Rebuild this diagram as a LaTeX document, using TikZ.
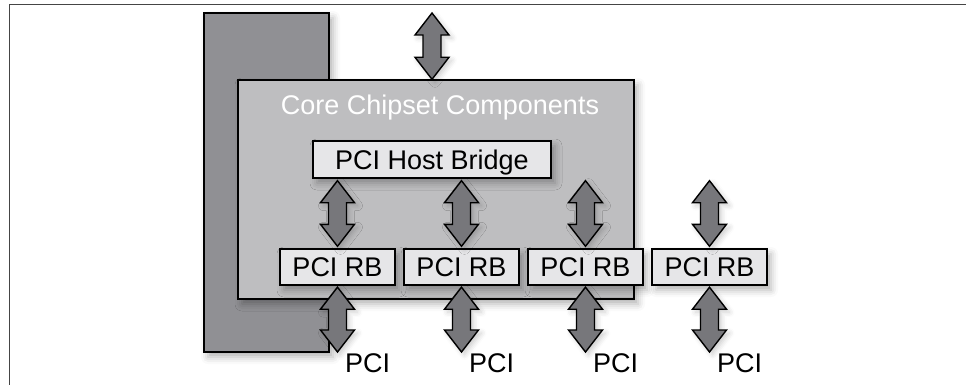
\documentclass[tikz,border=0pt]{standalone}
\usepackage{fontspec}
\setmainfont{Liberation Sans}
\usetikzlibrary{calc,shadows.blur}
\definecolor{towerc}{HTML}{909094}
\definecolor{corec}{HTML}{BEBEC0}
\definecolor{boxc}{HTML}{E6E6E8}
\definecolor{arrc}{HTML}{77777B}
\definecolor{framec}{HTML}{454545}
\newcommand\dblarrow[2]{%
  \path (#1) coordinate (aT) (#2) coordinate (aB);
  \draw[arr] (aT) -- ($(aT)+(17,22)$) -- ($(aT)+(9,22)$) -- ($(aB)+(9,-22)$) -- ($(aB)+(17,-22)$) -- (aB)
    -- ($(aB)+(-17,-22)$) -- ($(aB)+(-9,-22)$) -- ($(aT)+(-9,22)$) -- ($(aT)+(-17,22)$) -- cycle;}
\tikzset{
  shd/.style={blur shadow={shadow xshift=4pt, shadow yshift=-5pt, shadow blur radius=7pt, shadow opacity=30}},
  ashd/.style={blur shadow={shadow xshift=3pt, shadow yshift=-3pt, shadow blur radius=5pt, shadow opacity=20}},
  tower/.style={draw=black, line width=1.4pt, fill=towerc, inner sep=0pt, shd},
  corebox/.style={draw=black, line width=1.4pt, fill=corec, inner sep=0pt, shd},
  comp/.style={draw=black, line width=1.4pt, fill=boxc, inner sep=0pt, shd,
    font=\fontsize{27}{31}\selectfont, text height=19.3pt, text depth=0pt},
  arr/.style={draw=black, line width=1.4pt, fill=arrc, line join=miter, ashd},
  lbl/.style={font=\fontsize{27}{31}\selectfont, inner sep=0pt},
  ctitle/.style={font=\fontsize{27}{31}\selectfont, text=white, inner sep=0pt},
  framel/.style={draw=framec, line width=1.5pt}
}
\begin{document}
\begin{tikzpicture}[x=1pt,y=-1pt]
\useasboundingbox (0,0) rectangle (966,385);
\draw[framel] (9.5,385) -- (9.5,4.5) -- (966,4.5);

\node[tower, minimum width=125pt, minimum height=339pt] (tower) at (266.5,182.5) {};
\node[corebox, minimum width=396pt, minimum height=219pt] (core) at (436,189.5) {};
\node[ctitle, anchor=base] (title) at (440,115) {Core Chipset Components};

\coordinate (topend) at (432,13);
\dblarrow{topend}{topend |- core.north}

\node[comp, minimum width=238pt, minimum height=37pt] (host) at (432,159.5) {PCI Host Bridge};

\foreach \i/\x in {1/337.5, 2/461.5, 3/585.5, 4/709.5}{
  \node[comp, minimum width=115pt, minimum height=36pt] (rb\i) at (\x,267) {PCI RB};
}
\foreach \i in {1,2,3,4}{
  \dblarrow{$(rb\i.north |- host.south)+(0,2)$}{$(rb\i.north)+(0,-2)$}
  \coordinate (p\i) at (rb\i.south |- 0,352);
  \dblarrow{$(rb\i.south)+(0,1.5)$}{p\i}
  \node[lbl, anchor=base west] (l\i) at ($(p\i)+(7.5,20)$) {PCI};
}
\end{tikzpicture}
\end{document}
